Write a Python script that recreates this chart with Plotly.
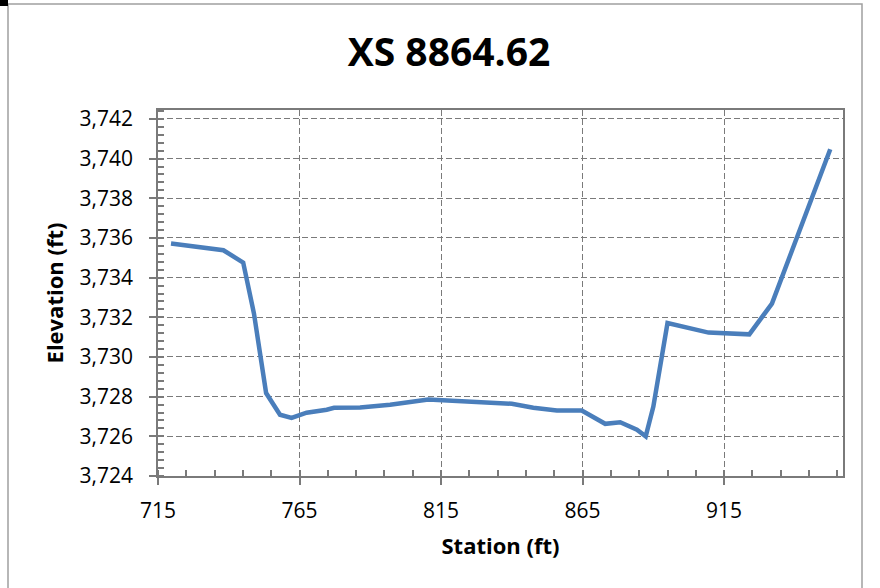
import plotly.graph_objects as go

# Cross-section XS 8864.62
station = [719.6, 738.1, 745.1, 748.9, 753.2, 758.1, 762.2, 767.5, 774.6, 777.2,
           786.4, 797.0, 810.5, 818.2, 840.0, 847.6, 855.9, 864.7, 873.0, 878.3,
           884.2, 887.3, 890.0, 895.0, 909.5, 923.9, 931.9, 952.5]
elevation = [3735.72, 3735.38, 3734.76, 3732.19, 3728.18, 3727.09, 3726.93, 3727.19, 3727.34, 3727.44,
             3727.45, 3727.59, 3727.86, 3727.79, 3727.64, 3727.44, 3727.30, 3727.30, 3726.63, 3726.71,
             3726.33, 3726.00, 3727.50, 3731.71, 3731.23, 3731.14, 3732.69, 3740.47]

x_ticks = [715, 765, 815, 865, 915]
y_ticks = [3724, 3726, 3728, 3730, 3732, 3734, 3736, 3738, 3740, 3742]

FONT = "Open Sans"
GRID = "#7a7a7a"

fig = go.Figure(go.Scatter(
    x=station, y=elevation, mode="lines",
    line=dict(color="#4A7EBB", width=4.5),
    showlegend=False,
))

# plot area: x 158..843 px, y 110..476 px
L, R, T, B = 158, 843, 110, 476
W, H = 880, 588


def px_x(p):
    return (p - L) / (R - L)


def px_y(p):
    return (B - p) / (B - T)


fig.update_layout(
    width=W, height=H,
    margin=dict(l=L, r=W - R, t=T, b=H - B),
    paper_bgcolor="white", plot_bgcolor="white",
    font=dict(family=FONT, color="black"),
    title=dict(text="<b>XS 8864.62</b>", font=dict(size=39, family=FONT, color="black"),
               x=449 / W, xanchor="center", xref="container",
               y=1 - 52 / H, yanchor="middle", yref="container"),
    shapes=[
        dict(type="rect", xref="paper", yref="paper",
             x0=px_x(8), x1=px_x(862), y0=px_y(600), y1=px_y(4),
             line=dict(color="#a0a0a0", width=1.5), layer="below"),
        dict(type="rect", xref="paper", yref="paper",
             x0=px_x(0), x1=px_x(8), y0=px_y(6), y1=px_y(0),
             fillcolor="black", line=dict(width=0)),
    ],
)

fig.update_xaxes(
    range=[715, 957], tickvals=x_ticks,
    showline=True, linecolor=GRID, linewidth=1.5, mirror=True,
    showgrid=True, gridcolor=GRID, gridwidth=1.3, griddash="6px,3px",
    ticks="outside", ticklen=7, tickcolor=GRID, tickwidth=1.5,
    tickfont=dict(size=21, family=FONT, color="black"),
    ticklabelstandoff=8,
    minor=dict(dtick=10, tick0=715, ticks="inside", ticklen=6, tickcolor=GRID, showgrid=False),
    zeroline=False,
    title=dict(text="<b>Station (ft)</b>", font=dict(size=22, family=FONT, color="black"),
               standoff=16),
)
fig.update_yaxes(
    range=[3724, 3742.45], tickvals=y_ticks, tickformat=",d",
    showline=True, linecolor=GRID, linewidth=1.5, mirror=True,
    showgrid=True, gridcolor=GRID, gridwidth=1.3, griddash="6px,3px",
    ticks="outside", ticklen=7, tickcolor=GRID, tickwidth=1.5,
    tickfont=dict(size=21, family=FONT, color="black"),
    ticklabelstandoff=12,
    minor=dict(dtick=0.4, tick0=3724, ticks="inside", ticklen=6, tickcolor=GRID, showgrid=False),
    zeroline=False,
    title=dict(text="<b>Elevation (ft)</b>", font=dict(size=22, family=FONT, color="black"),
               standoff=10),
)

# drop the page's default body margin so the figure sits at the window origin
fig.write_html("out.html", config={"displayModeBar": False},
               post_script="document.body.style.margin='0';")
